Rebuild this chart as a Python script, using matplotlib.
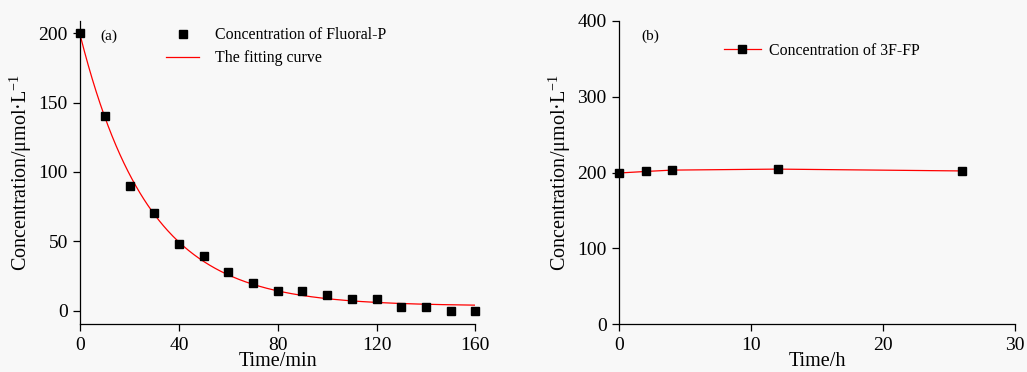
import matplotlib
matplotlib.use("Agg")
import matplotlib.pyplot as plt
import numpy as np

# (a) Fluoral-P consumption, sampled every 10 min
time_min = [0, 10, 20, 30, 40, 50, 60, 70, 80, 90, 100, 110, 120, 130, 140, 150, 160]
fluoral_p = [200, 140.6, 90.1, 70.2, 48.1, 39.4, 27.9, 19.7, 14.2, 14.2, 11.1,
             8.4, 8.4, 2.9, 2.9, 0.0, 0.0]

# (b) 3F-FP stability over hours
time_h = [0, 2, 4, 12, 26]
fp3f = [199.5, 201.5, 203.3, 204.6, 202.2]

ylabel = r"Concentration/μmol·L$^{\mathregular{-1}}$"
BG = "#f8f8f8"

plt.rcParams["font.family"] = ["Liberation Serif", "DejaVu Serif"]
plt.rcParams["mathtext.fontset"] = "custom"
plt.rcParams["mathtext.rm"] = "Liberation Serif"


def exp_fit(t, y):
    # y = a*exp(-k t) + c, scan k and solve a, c by least squares
    t = np.asarray(t, float); y = np.asarray(y, float)
    best = None
    for k in np.linspace(0.005, 0.15, 3000):
        X = np.column_stack([np.exp(-k * t), np.ones_like(t)])
        coef, *_ = np.linalg.lstsq(X, y, rcond=None)
        err = ((X @ coef - y) ** 2).sum()
        if best is None or err < best[0]:
            best = (err, k, coef)
    _, k, (a, c) = best
    return lambda tt: a * np.exp(-k * tt) + c


def style(ax):
    ax.set_facecolor(BG)
    for s in ["top", "right"]:
        ax.spines[s].set_visible(False)
    for s in ["left", "bottom"]:
        ax.spines[s].set_linewidth(0.9)
    ax.tick_params(direction="out", length=5, width=0.9, labelsize=14, pad=4)


fig = plt.figure(figsize=(10.27, 3.72), dpi=100, facecolor=BG)
ax1 = fig.add_axes([0.0782, 0.128, 0.3846, 0.816])
ax2 = fig.add_axes([0.6030, 0.128, 0.3853, 0.816])

# panel (a)
style(ax1)
f = exp_fit(time_min, fluoral_p)
tt = np.linspace(0, 160, 300)
ax1.plot(time_min, fluoral_p, "s", color="black", markersize=6.3,
         label="Concentration of Fluoral-P", clip_on=False, zorder=3)
ax1.plot(tt, f(tt), color="red", lw=0.9, label="The fitting curve", zorder=2)
ax1.set_xlim(0, 160); ax1.set_ylim(-10, 209)
ax1.set_xticks([0, 40, 80, 120, 160]); ax1.set_yticks([0, 50, 100, 150, 200])
ax1.set_xlabel("Time/min", fontsize=14.5, labelpad=-1)
ax1.set_ylabel(ylabel, fontsize=14.5, labelpad=3)
ax1.text(0.05, 0.95, "(a)", transform=ax1.transAxes, fontsize=11,
         ha="left", va="center")
ax1.legend(loc="upper left", bbox_to_anchor=(0.217, 0.979), frameon=False,
           fontsize=11.4, handlelength=2.1, handletextpad=1.0, borderpad=0,
           borderaxespad=0, labelspacing=0.45, numpoints=1)

# panel (b)
style(ax2)
ax2.plot(time_h, fp3f, "-s", color="red", lw=0.9, markersize=6.3,
         markerfacecolor="black", markeredgecolor="black",
         label="Concentration of 3F-FP", clip_on=False, zorder=3)
ax2.set_xlim(0, 30); ax2.set_ylim(0, 400)
ax2.set_xticks([0, 10, 20, 30]); ax2.set_yticks([0, 100, 200, 300, 400])
ax2.set_xlabel("Time/h", fontsize=14.5, labelpad=-1)
ax2.set_ylabel(ylabel, fontsize=14.5, labelpad=3)
ax2.text(0.055, 0.95, "(b)", transform=ax2.transAxes, fontsize=11,
         ha="left", va="center")
ax2.legend(loc="upper left", bbox_to_anchor=(0.265, 0.928), frameon=False,
           fontsize=11.4, handlelength=2.3, handletextpad=0.55, borderpad=0,
           borderaxespad=0, numpoints=1)

fig.savefig("out.png", dpi=100, facecolor=BG)
